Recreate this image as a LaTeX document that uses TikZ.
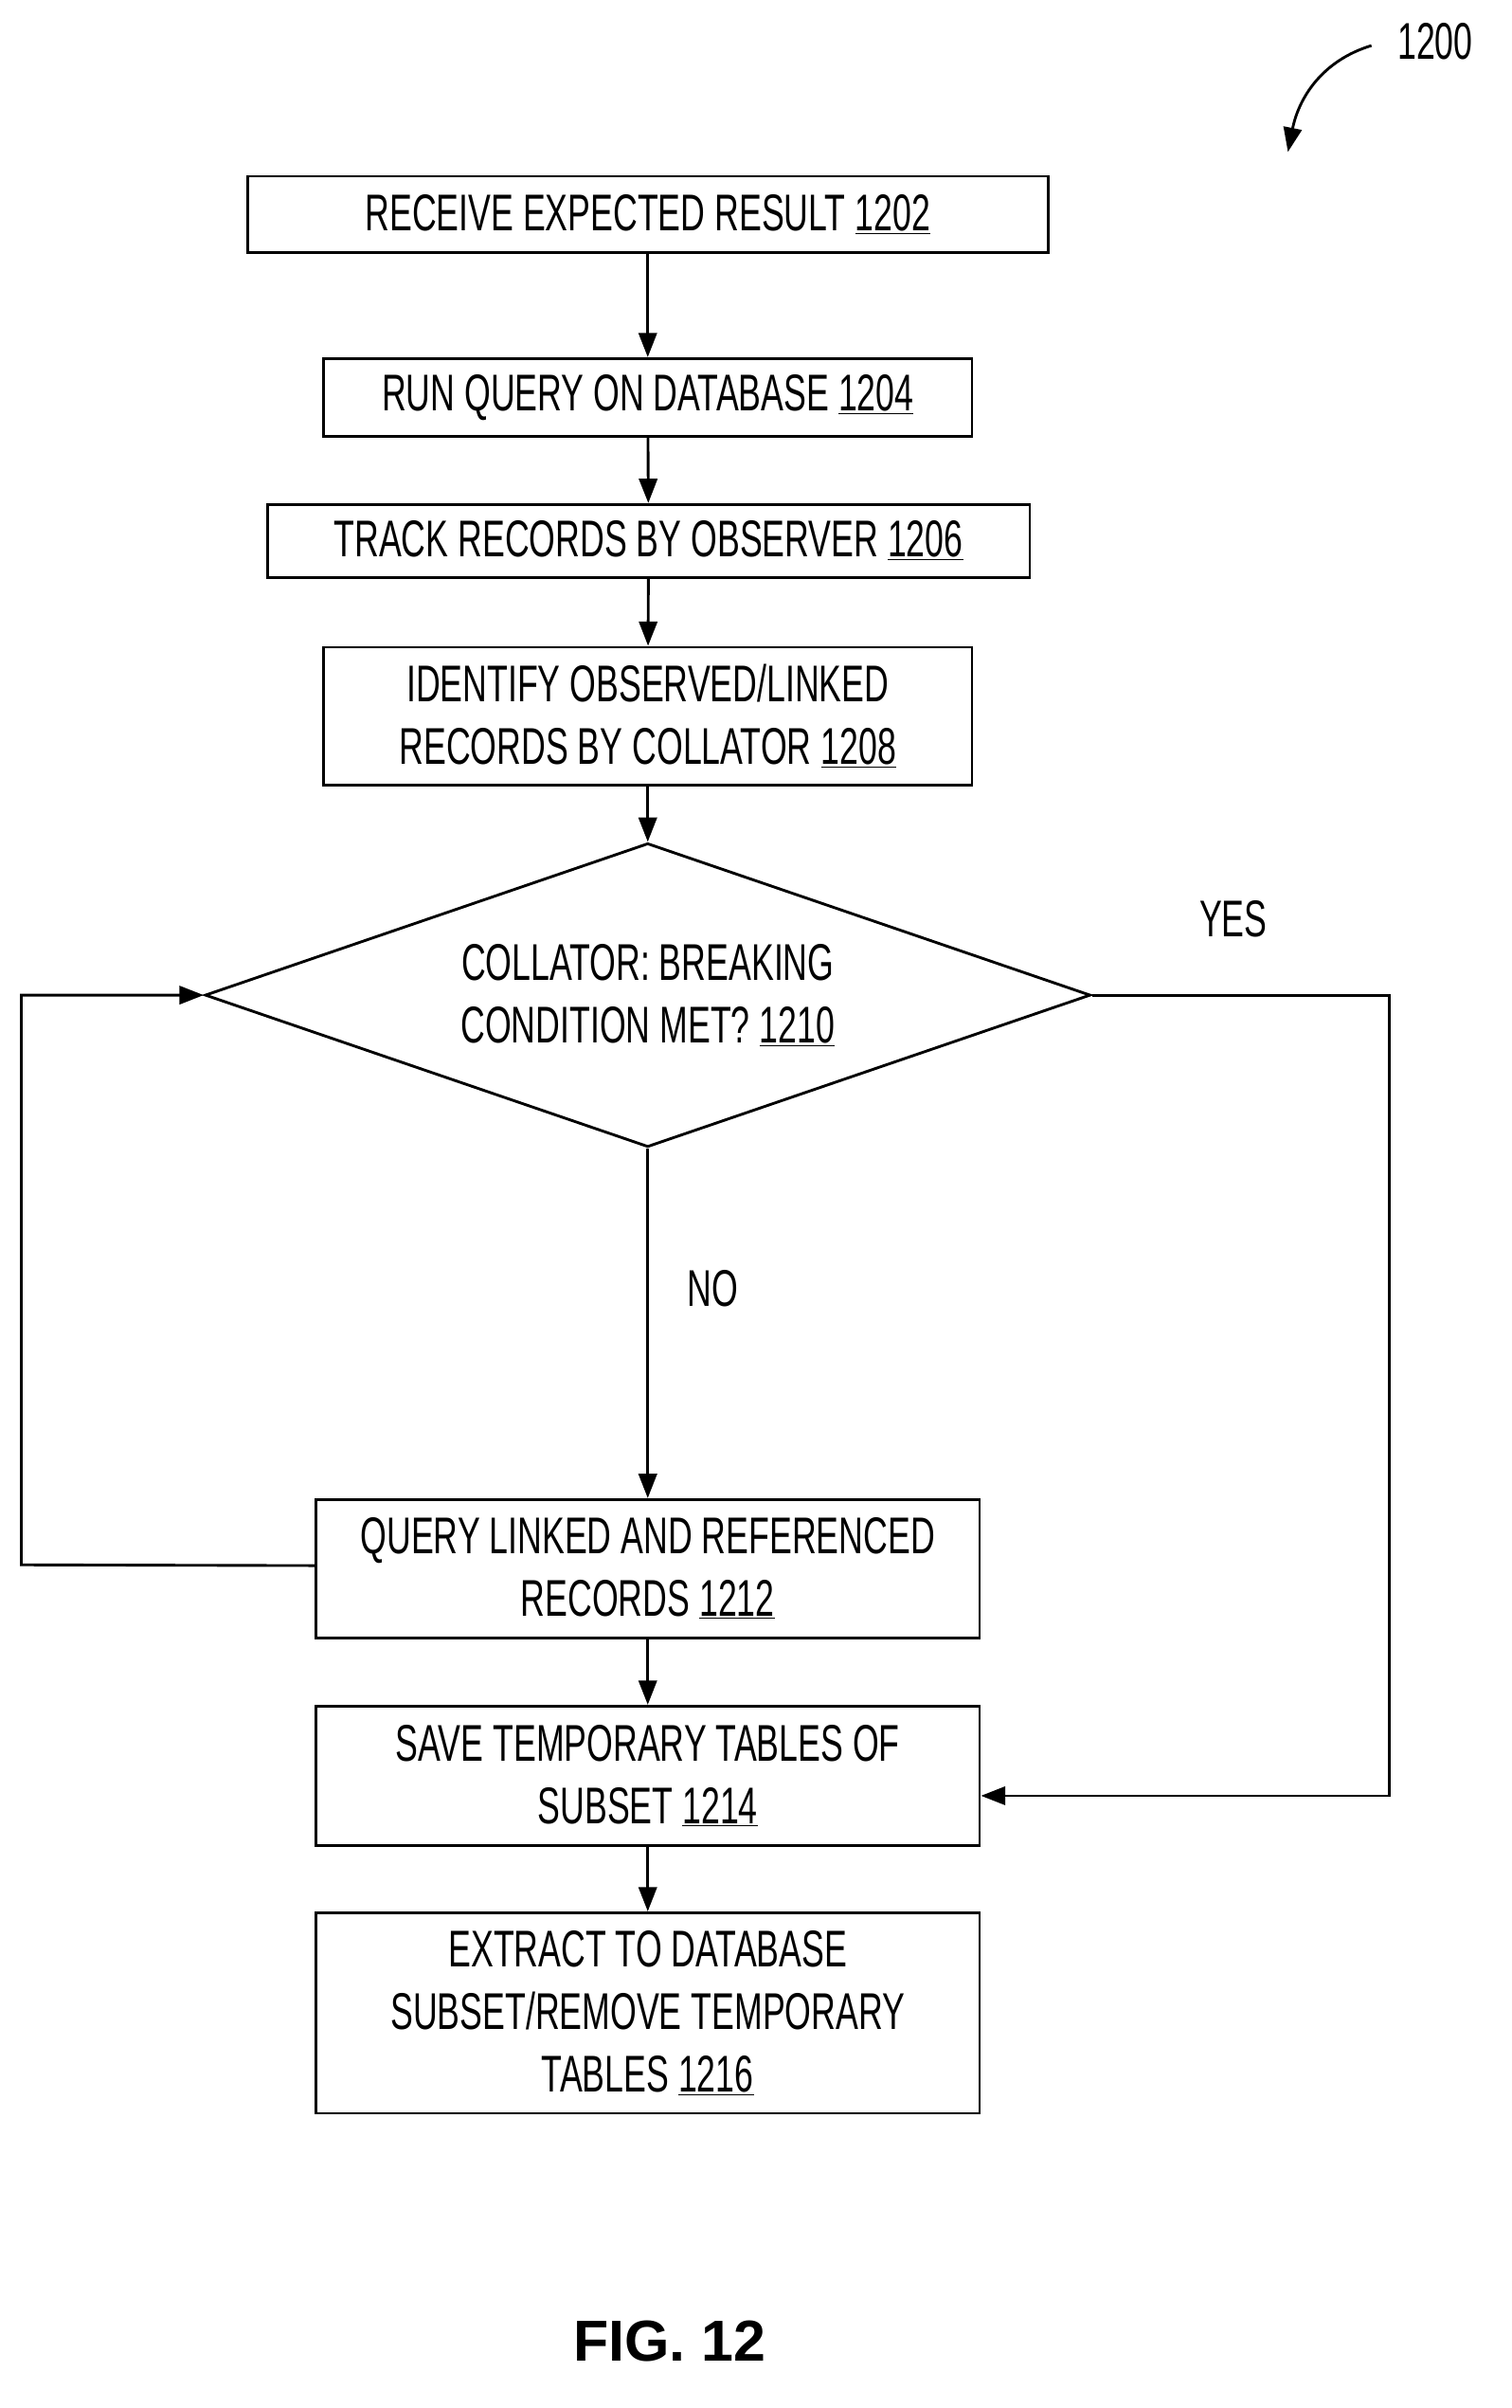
\documentclass[tikz,border=0pt]{standalone}
\usepackage{fontspec}
\setmainfont{Liberation Sans}[FakeStretch=0.655]
\newfontfamily\figfont{Liberation Sans}
\usetikzlibrary{shapes.geometric,arrows.meta}

\tikzset{
  every picture/.style={line width=1.8pt},
  box/.style={draw, align=center, inner sep=0pt, font=\fontsize{34}{41}\selectfont},
  arr/.style={-{Triangle[length=16pt,width=12pt]}},
}

\begin{document}
\begin{tikzpicture}[x=1pt,y=-1pt]
\useasboundingbox (0,0) rectangle (995,1585);

% steps
\node[box, minimum width=527, minimum height=50] (rcv) at (426.5,141) {RECEIVE EXPECTED RESULT \underline{1202}};
\node[box, minimum width=427, minimum height=51] (run) at (426.5,261.5) {RUN QUERY ON DATABASE \underline{1204}};
\node[box, minimum width=502, minimum height=48] (trk) at (427,356) {TRACK RECORDS BY OBSERVER \underline{1206}};
\node[box, minimum width=427, minimum height=91] (idf) at (426.5,471.5) {IDENTIFY OBSERVED/LINKED\\RECORDS BY COLLATOR \underline{1208}};
\node[box, shape=diamond, shape aspect=2.9, minimum width=583, minimum height=200] (brk) at (426.5,655) {COLLATOR: BREAKING\\CONDITION MET? \underline{1210}};
\node[box, minimum width=437, minimum height=91] (qry) at (426.5,1032.5) {QUERY LINKED AND REFERENCED\\RECORDS \underline{1212}};
\node[box, minimum width=437, minimum height=92] (sav) at (426.5,1169) {SAVE TEMPORARY TABLES OF\\SUBSET \underline{1214}};
\node[box, minimum width=437, minimum height=132] (ext) at (426.5,1325) {EXTRACT TO DATABASE\\SUBSET/REMOVE TEMPORARY\\TABLES \underline{1216}};

% connectors
\draw[arr] (rcv) -- (run);
\draw[arr] (run) -- (trk);
\draw[arr] (trk) -- (idf);
\draw[arr] (idf) -- (brk);
\draw[arr] (brk) -- node[pos=0.4, right=22pt, font=\fontsize{34}{41}\selectfont] {NO} (qry);
\draw[arr] (qry) -- (sav);
\draw[arr] (sav) -- (ext);
\draw[arr] (qry.west) ++(0,-2) -- (14,1030) -- (14,655) -- (brk.west);
\draw[arr] (brk.east) -- (915,655) -- (915,1182) -- (sav.east |- 0,1182);
\node[font=\fontsize{34}{41}\selectfont] (yes) at (812,605) {YES};

% figure reference
\node[font=\fontsize{34}{41}\selectfont] (ref) at (945,27) {1200};
\draw[arr] (903,30) .. controls (870,40) and (855,65) .. (848,100);
\node[font=\figfont\bfseries\fontsize{38}{44}\selectfont] (fig) at (441,1541) {FIG. 12};
\end{tikzpicture}
\end{document}
